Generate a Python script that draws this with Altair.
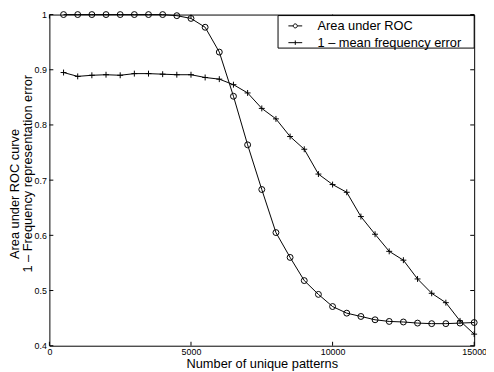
import altair as alt
import pandas as pd

# ---- data ----
x_vals = [500, 1000, 1500, 2000, 2500, 3000, 3500, 4000, 4500, 5000,
          5500, 6000, 6500, 7000, 7500, 8000, 8500, 9000, 9500, 10000,
          10500, 11000, 11500, 12000, 12500, 13000, 13500, 14000, 14500, 15000]
auc = [1.0, 1.0, 1.0, 1.0, 1.0, 1.0, 1.0, 1.0, 0.998, 0.993,
       0.977, 0.932, 0.852, 0.764, 0.683, 0.605, 0.560, 0.518, 0.493, 0.471,
       0.459, 0.453, 0.447, 0.444, 0.443, 0.441, 0.440, 0.440, 0.441, 0.442]
freq = [0.895, 0.888, 0.890, 0.891, 0.890, 0.893, 0.893, 0.892, 0.891, 0.891,
        0.886, 0.883, 0.873, 0.858, 0.830, 0.811, 0.779, 0.756, 0.711, 0.692,
        0.678, 0.634, 0.602, 0.571, 0.555, 0.521, 0.495, 0.478, 0.445, 0.421]
series_names = ["Area under ROC", "1 \u2013 mean frequency error"]
x_ticks = [0, 5000, 10000, 15000]
y_ticks = [0.4, 0.5, 0.6, 0.7, 0.8, 0.9, 1.0]
y_title_line1 = "Area under ROC curve"
y_title_line2 = "1 \u2013 Frequency representation error"

W, H = 431, 336
FONT = "Liberation Sans"

rows = []
for xv, a, f in zip(x_vals, auc, freq):
    rows.append({"x": xv, "value": a, "series": series_names[0]})
    rows.append({"x": xv, "value": f, "series": series_names[1]})
df = pd.DataFrame(rows)
xt = pd.DataFrame({"t": x_ticks})
yt = pd.DataFrame({"t": y_ticks})

xscale = alt.Scale(domain=[0, 15000], nice=False, zero=False)
yscale = alt.Scale(domain=[0.4, 1.0], nice=False, zero=False)

x_enc = alt.X("x:Q", scale=xscale, axis=alt.Axis(
    values=x_ticks, format="d", title="Number of unique patterns",
    ticks=False, domain=False, grid=False, labelFlush=False,
    labelPadding=2, titleY=12, titleBaseline="top"))
y_enc = alt.Y("value:Q", scale=yscale, axis=alt.Axis(
    values=y_ticks, format=".1~f", title=y_title_line2,
    ticks=False, domain=False, grid=False, labelFlush=False,
    labelPadding=3, titleX=-15, titleY=161, titleAngle=-90,
    titleBaseline="bottom", titleAlign="center"))

base = alt.Chart(df)

lines = base.mark_line(color="black", strokeWidth=1).encode(
    x=x_enc, y=y_enc, detail="series:N")

marker_paths = ["circle", "M-1,0H1M0,-1V1"]
markers = base.mark_point(filled=False, color="black", size=36, strokeWidth=1,
                          opacity=1).encode(
    x="x:Q", y="value:Q",
    shape=alt.Shape("series:N", scale=alt.Scale(domain=series_names, range=marker_paths),
                    legend=None))

legend_paths = [
    "M-1,0H-0.29M0.29,0H1M0.29,0A0.29,0.29,0,1,1,-0.29,0A0.29,0.29,0,1,1,0.29,0",
    "M-1,0H1M0,-0.32V0.32",
]
legend_layer = base.mark_point(filled=False, color="black", opacity=0).encode(
    x="x:Q", y="value:Q",
    shape=alt.Shape("lg:N", scale=alt.Scale(domain=series_names, range=legend_paths),
                    legend=alt.Legend(title=None, orient="none", legendX=233, legendY=2,
                                      padding=2, symbolOffset=7, labelOffset=15,
                                      symbolSize=196, symbolStrokeWidth=1,
                                      symbolStrokeColor="black", symbolFillColor="transparent",
                                      symbolOpacity=1, labelFont=FONT, labelFontSize=13,
                                      labelColor="black", rowPadding=2))
).transform_calculate(lg="datum.series")

legend_box = alt.Chart(pd.DataFrame({"k": [0]})).mark_rect(
    fill="white", stroke="black", strokeWidth=1).encode(
    x=alt.value(232), x2=alt.value(W), y=alt.value(1), y2=alt.value(34))

# first line of the two-line y-axis title
title_line1 = alt.Chart(pd.DataFrame({"label": [y_title_line1]})).mark_text(
    angle=270, font=FONT, fontSize=13, color="black", align="center", baseline="middle"
).encode(text="label:N", x=alt.value(-35), y=alt.value(182))

TL = 4
tick_left = alt.Chart(yt).mark_rule(color="black").encode(
    y=alt.Y("t:Q", scale=yscale), x=alt.value(0), x2=alt.value(TL))
tick_right = alt.Chart(yt).mark_rule(color="black").encode(
    y=alt.Y("t:Q", scale=yscale), x=alt.value(W), x2=alt.value(W - TL))
tick_bottom = alt.Chart(xt).mark_rule(color="black").encode(
    x=alt.X("t:Q", scale=xscale), y=alt.value(H), y2=alt.value(H - TL))
tick_top = alt.Chart(xt).mark_rule(color="black").encode(
    x=alt.X("t:Q", scale=xscale), y=alt.value(0), y2=alt.value(TL))

chart = alt.layer(
    tick_left, tick_right, tick_bottom, tick_top,
    legend_box, lines, markers, legend_layer, title_line1
).resolve_scale(shape="independent").properties(
    width=W, height=H,
    autosize=alt.AutoSizeParams(type="none"),
    padding={"left": 42, "top": 4, "right": 12, "bottom": 24},
    background="white",
).configure_view(
    stroke="black", strokeWidth=1
).configure_axis(
    labelFont=FONT, labelFontSize=9, labelColor="black",
    titleFont=FONT, titleFontSize=13, titleColor="black", titleFontWeight="normal",
)

chart.save("out.html", embed_options={"renderer": "svg", "actions": False})
